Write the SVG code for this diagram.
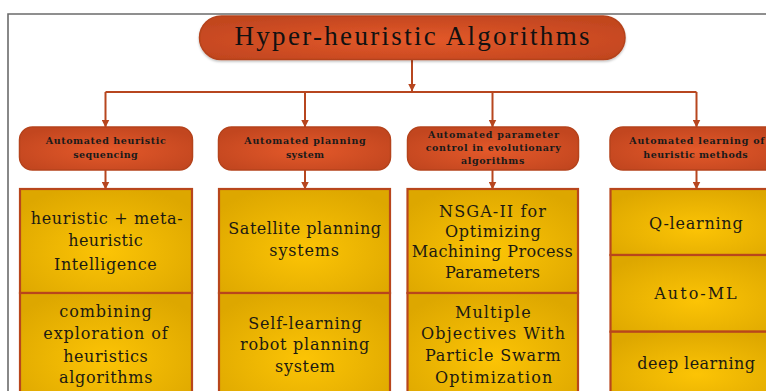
<svg xmlns="http://www.w3.org/2000/svg" width="766" height="391" viewBox="0 0 766 391">
  <defs>
    <radialGradient id="gOrange" cx="0.5" cy="0.55" r="0.6">
      <stop offset="0" stop-color="#e4592a"/>
      <stop offset="1" stop-color="#c2461f"/>
    </radialGradient>
    <radialGradient id="gYellow" cx="0.5" cy="0.6" r="0.65">
      <stop offset="0" stop-color="#fcc405"/>
      <stop offset="1" stop-color="#dda700"/>
    </radialGradient>
    <marker id="arrow" markerWidth="8" markerHeight="8" refX="7.5" refY="4" orient="auto" markerUnits="userSpaceOnUse">
      <path d="M0,0 L8,4 L0,8 Z" fill="#b7461f"/>
    </marker>
    <filter id="shadow" x="-5%" y="-20%" width="110%" height="150%">
      <feDropShadow dx="0" dy="1.5" stdDeviation="1.2" flood-color="#000" flood-opacity="0.25"/>
    </filter>
  </defs>
  <style>
    .frame { fill: none; stroke: #6b6b6b; stroke-width: 1.6; }
    .pill { fill: url(#gOrange); stroke: #b5431c; stroke-width: 1.5; }
    .cell { fill: url(#gYellow); stroke: #b8461c; stroke-width: 2.2; }
    .wire { fill: none; stroke: #b7461f; stroke-width: 2; }
    text { text-anchor: middle; }
    .title { font-family: 'Liberation Serif', serif; font-size: 27px; fill: #111; }
    .head { font-family: 'DejaVu Serif', serif; font-size: 9.5px; font-weight: bold; fill: #1a1a1a; }
    .item { font-family: 'DejaVu Serif', serif; font-size: 16px; fill: #1c1a12; }
  </style>

  <!-- outer frame -->
  <path class="frame" d="M8,391 L8,14 L766,14"/>

  <!-- connectors -->
  <g id="connectors">
    <path class="wire" d="M412,59.5 L412,91" marker-end="url(#arrow)"/>
    <path class="wire" d="M105.5,92 L696.5,92"/>
    <path class="wire" d="M105.5,92 L105.5,127" marker-end="url(#arrow)"/>
    <path class="wire" d="M305,92 L305,127" marker-end="url(#arrow)"/>
    <path class="wire" d="M492.5,92 L492.5,127" marker-end="url(#arrow)"/>
    <path class="wire" d="M696.5,92 L696.5,127" marker-end="url(#arrow)"/>
    <path class="wire" d="M105.5,170 L105.5,189" marker-end="url(#arrow)"/>
    <path class="wire" d="M305,170 L305,189" marker-end="url(#arrow)"/>
    <path class="wire" d="M492.5,170 L492.5,189" marker-end="url(#arrow)"/>
    <path class="wire" d="M696.5,170 L696.5,189" marker-end="url(#arrow)"/>
  </g>

  <!-- root -->
  <g id="root">
    <rect class="pill" x="199.5" y="16" width="425.5" height="43.5" rx="21.75" filter="url(#shadow)"/>
    <text class="title" x="412" y="45" textLength="355" lengthAdjust="spacing">Hyper-heuristic Algorithms</text>
  </g>

  <!-- category: heuristic sequencing -->
  <g id="cat-sequencing">
    <rect class="pill" x="19.5" y="127" width="173" height="43" rx="13"/>
    <text class="head" x="105.7" y="144.3" textLength="120" lengthAdjust="spacing">Automated heuristic</text>
    <text class="head" x="105.5" y="157.5" textLength="64.5" lengthAdjust="spacing">sequencing</text>
  </g>
  <g id="items-sequencing">
    <rect class="cell" x="20" y="189" width="172" height="104"/>
    <rect class="cell" x="20" y="293" width="172" height="110"/>
    <text class="item" x="106.7" y="224.3" textLength="152" lengthAdjust="spacing">heuristic + meta-</text>
    <text class="item" x="105.5" y="246" textLength="74.4" lengthAdjust="spacing">heuristic</text>
    <text class="item" x="105.4" y="270" textLength="102.7" lengthAdjust="spacing">Intelligence</text>
    <text class="item" x="105.5" y="316.7" textLength="92.4" lengthAdjust="spacing">combining</text>
    <text class="item" x="105.5" y="339.3" textLength="124.4" lengthAdjust="spacing">exploration of</text>
    <text class="item" x="105.5" y="361.7" textLength="84.4" lengthAdjust="spacing">heuristics</text>
    <text class="item" x="105.7" y="382.7" textLength="93.3" lengthAdjust="spacing">algorithms</text>
  </g>

  <!-- category: planning system -->
  <g id="cat-planning">
    <rect class="pill" x="218.5" y="127" width="172" height="43" rx="13"/>
    <text class="head" x="305" y="144.3" textLength="121.4" lengthAdjust="spacing">Automated planning</text>
    <text class="head" x="305" y="157.5" textLength="38" lengthAdjust="spacing">system</text>
  </g>
  <g id="items-planning">
    <rect class="cell" x="219" y="189" width="171" height="104"/>
    <rect class="cell" x="219" y="293" width="171" height="110"/>
    <text class="item" x="304.7" y="234" textLength="152.7" lengthAdjust="spacing">Satellite planning</text>
    <text class="item" x="304.2" y="256" textLength="69.7" lengthAdjust="spacing">systems</text>
    <text class="item" x="305" y="329.3" textLength="113.4" lengthAdjust="spacing">Self-learning</text>
    <text class="item" x="304.7" y="350" textLength="129.3" lengthAdjust="spacing">robot planning</text>
    <text class="item" x="305" y="371.7" textLength="60" lengthAdjust="spacing">system</text>
  </g>

  <!-- category: parameter control -->
  <g id="cat-parameter">
    <rect class="pill" x="407.5" y="127" width="171" height="43" rx="13"/>
    <text class="head" x="493.5" y="138.3" textLength="131" lengthAdjust="spacing">Automated parameter</text>
    <text class="head" x="493.2" y="150.7" textLength="135" lengthAdjust="spacing">control in evolutionary</text>
    <text class="head" x="492.7" y="164.3" textLength="63.3" lengthAdjust="spacing">algorithms</text>
  </g>
  <g id="items-parameter">
    <rect class="cell" x="407.5" y="189" width="170.5" height="104"/>
    <rect class="cell" x="407.5" y="293" width="170.5" height="110"/>
    <text class="item" x="492.5" y="216.7" textLength="107" lengthAdjust="spacing">NSGA-II for</text>
    <text class="item" x="492.8" y="237.3" textLength="95.7" lengthAdjust="spacing">Optimizing</text>
    <text class="item" x="492.2" y="257" textLength="161" lengthAdjust="spacing">Machining Process</text>
    <text class="item" x="492.5" y="278.3" textLength="95" lengthAdjust="spacing">Parameters</text>
    <text class="item" x="492.8" y="317.7" textLength="75.7" lengthAdjust="spacing">Multiple</text>
    <text class="item" x="493" y="339.3" textLength="144" lengthAdjust="spacing">Objectives With</text>
    <text class="item" x="492.8" y="361" textLength="135.7" lengthAdjust="spacing">Particle Swarm</text>
    <text class="item" x="493.6" y="382.7" textLength="117.3" lengthAdjust="spacing">Optimization</text>
  </g>

  <!-- category: learning of heuristic methods -->
  <g id="cat-learning">
    <rect class="pill" x="610" y="127" width="174" height="43" rx="13"/>
    <text class="head" x="696.8" y="144.3" textLength="135" lengthAdjust="spacing">Automated learning of</text>
    <text class="head" x="695.5" y="157.5" textLength="104.4" lengthAdjust="spacing">heuristic methods</text>
  </g>
  <g id="items-learning">
    <rect class="cell" x="610.5" y="189" width="173" height="66"/>
    <rect class="cell" x="610.5" y="255" width="173" height="76.7"/>
    <rect class="cell" x="610.5" y="331.7" width="173" height="71"/>
    <text class="item" x="695.8" y="229.3" textLength="93.7" lengthAdjust="spacing">Q-learning</text>
    <text class="item" x="695.5" y="299.3" textLength="82.4" lengthAdjust="spacing">Auto-ML</text>
    <text class="item" x="696.2" y="369.3" textLength="117.7" lengthAdjust="spacing">deep learning</text>
  </g>
</svg>
